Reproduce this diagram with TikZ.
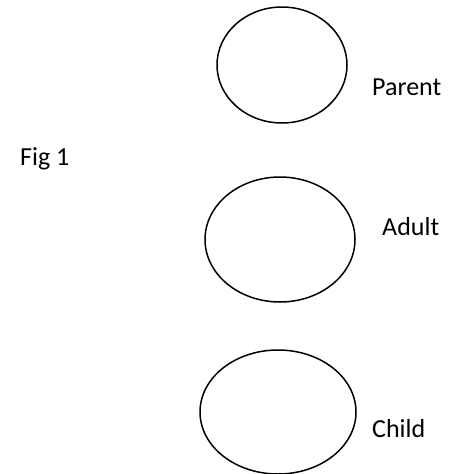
\documentclass[tikz,border=0pt]{standalone}
\usepackage{fontspec}
\setmainfont{Carlito}
\usetikzlibrary{shapes.geometric}

\tikzset{
    stage/.style={ellipse, draw=black, line width=1.5pt, inner sep=0pt},
    lbl/.style={anchor=base west, inner sep=0pt, font=\fontsize{26}{30}\selectfont}
}

\begin{document}
\begin{tikzpicture}[x=1pt,y=-1pt]
            \useasboundingbox (0,0) rectangle (453,474);
            \node[stage, minimum width=130pt, minimum height=116pt] (parent) at (282,65) {};
            \node[stage, minimum width=150pt, minimum height=125pt] (adult) at (280,239.5) {};
            \node[stage, minimum width=156pt, minimum height=124pt] (child) at (278,412) {};
            \node[lbl] (parentlbl) at (372,95) {Parent};
            \node[lbl] (adultlbl) at (382,235) {Adult};
            \node[lbl] (childlbl) at (372,437) {Child};
            \node[lbl] (figlbl) at (20,165) {Fig 1};
        \end{tikzpicture}
\end{document}
